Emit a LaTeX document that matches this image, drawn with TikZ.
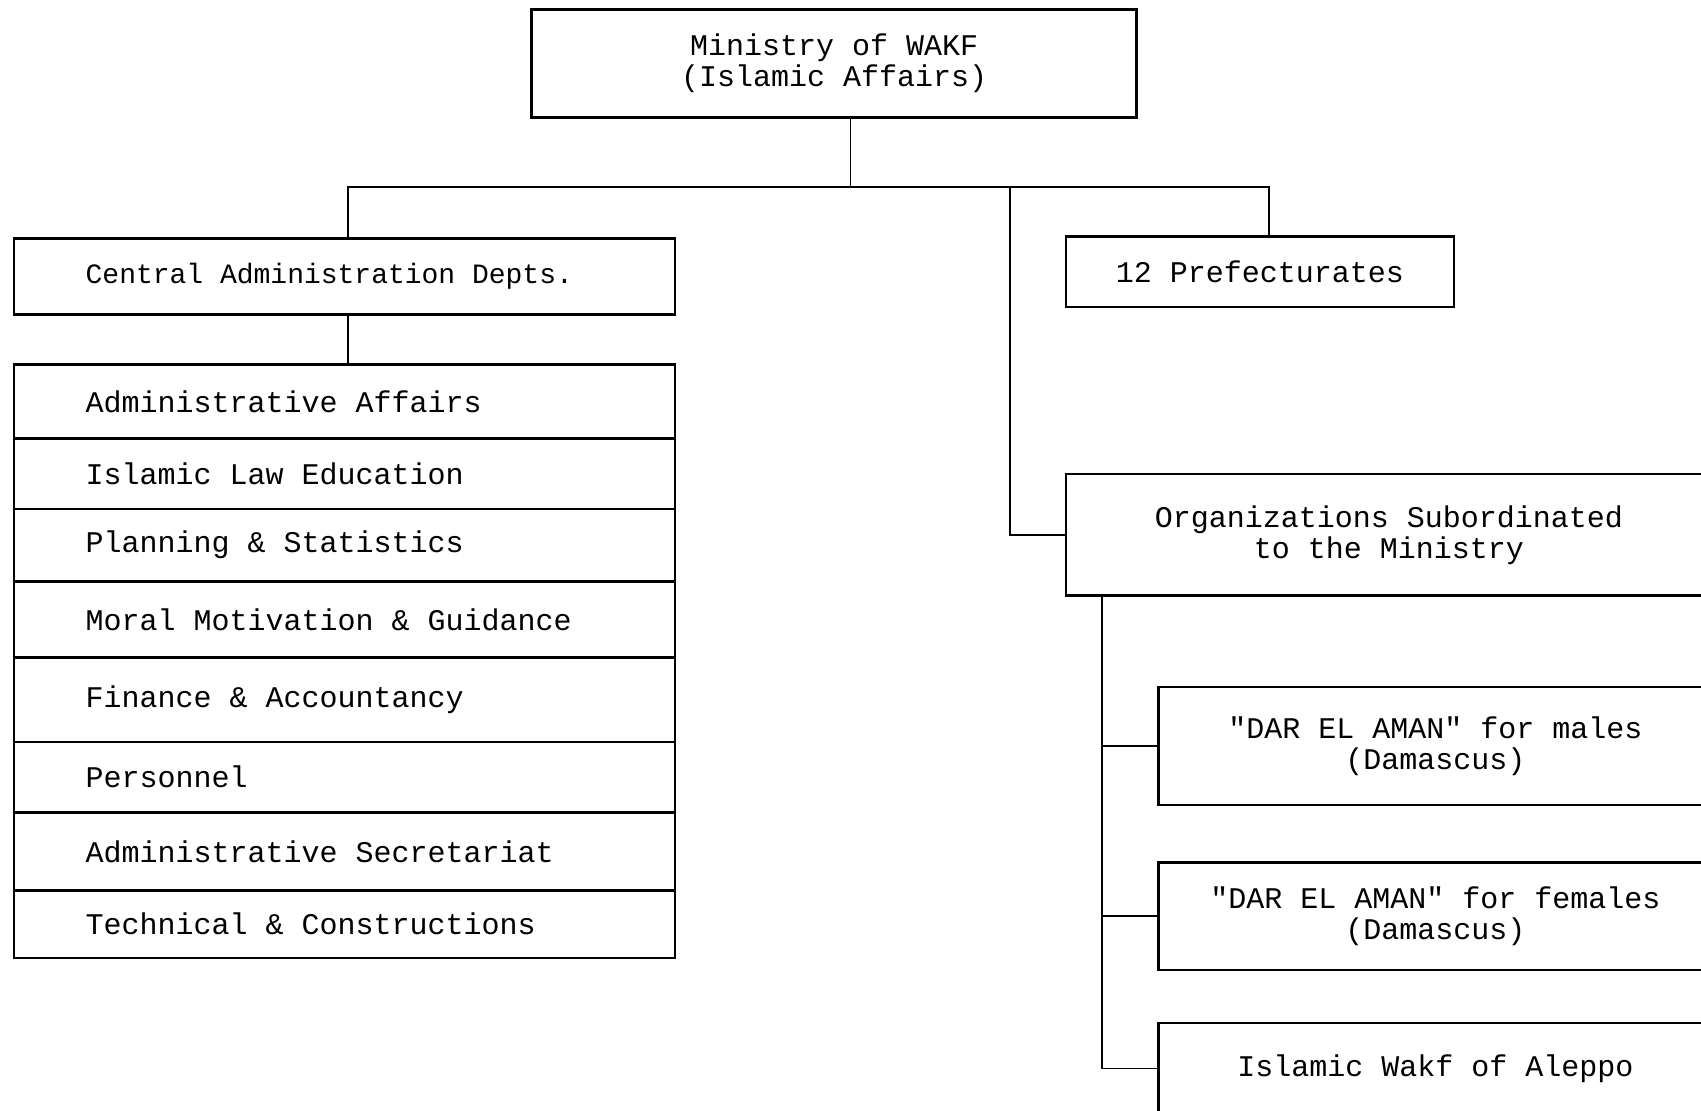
\documentclass[tikz,border=0pt]{standalone}
\usepackage{fontspec}
\setmainfont{Liberation Mono}
\usepackage{tikz}
\usetikzlibrary{positioning}
\newcommand{\letra}{\fontsize{30}{31}\selectfont}
\newcommand{\letrac}{\fontsize{28}{30}\selectfont}
\tikzset{
  caja/.style={rectangle, draw, line width=2.5pt, outer sep=0pt,
    align=center, font=\letra},
  fila/.style={rectangle, draw, line width=2.5pt, outer sep=0pt,
    text width=641pt, inner xsep=10pt, inner ysep=0pt, align=flush left,
    minimum height=74.2pt, font=\letra,
    execute at begin node={\spaceskip=0pt\relax\hspace*{61.7pt}}},
  linea/.style={line width=1.8pt},
}

\begin{document}
\begin{tikzpicture}[x=1pt, y=-1pt]
  \useasboundingbox (0,0) rectangle (1701,1111);
  \clip (0,0) rectangle (1701,1111);
  \fill[white] (0,0) rectangle (1701,1111);
  % upper level
  \node[caja, minimum width=605pt, minimum height=108pt] (ministerio) at (834.2,63.5) {Ministry of WAKF\\(Islamic Affairs)};
  \node[fila, minimum height=76pt, font=\letrac] (central) at (344.5,276.6) {Central Administration Depts.};
  \node[caja, minimum width=388pt, minimum height=70.5pt] (prefec) at (1259.9,271.8) {12 Prefecturates};
  \node[caja, minimum width=646pt, minimum height=121.6pt] (organiz) at (1389,534.8) {Organizations Subordinated\\to the Ministry};
  % central departments
  \node[fila, minimum height=73.8pt] (f1) at (344.5,401.4) {Administrative Affairs};
  \node[fila, minimum height=70.5pt, below=0pt of f1] (f2) {Islamic Law Education};
  \node[fila, minimum height=72.7pt, below=0pt of f2] (f3) {Planning \& Statistics};
  \node[fila, minimum height=75.9pt, below=0pt of f3] (f4) {Moral Motivation \& Guidance};
  \node[fila, minimum height=84.6pt, below=0pt of f4] (f5) {Finance \& Accountancy};
  \node[fila, minimum height=70.5pt, below=0pt of f5] (f6) {Personnel};
  \node[fila, minimum height=78.1pt, below=0pt of f6] (f7) {Administrative Secretariat};
  \node[fila, minimum height=67.3pt, below=0pt of f7] (f8) {Technical \& Constructions};
  % subordinated organizations
  \node[caja, minimum width=553.4pt, minimum height=118.3pt] (darm) at (1435.3,745.9) {\textquotedbl DAR EL AMAN\textquotedbl{} for males\\(Damascus)};
  \node[caja, minimum width=553.4pt, minimum height=107.4pt] (darf) at (1435.3,916.1) {\textquotedbl DAR EL AMAN\textquotedbl{} for females\\(Damascus)};
  \node[caja, minimum width=553.4pt, minimum height=91pt] (alepo) at (1435.3,1068.5) {Islamic Wakf of Aleppo};
  % connectors
  \coordinate (nudo) at (850.5,186.6);
  \coordinate (izq) at (348,186.6);
  \coordinate (rama) at (1010,186.6);
  \coordinate (der) at (1269,186.6);
  \coordinate (tronco) at (1102,595.6);
  \draw[linea] (ministerio.south -| nudo) -- (nudo);
  \draw[linea] (central.north -| izq) -- (izq) -- (der) -- (prefec.north -| der);
  \draw[linea] (rama) |- (organiz.west);
  \draw[linea] (central.south -| izq) -- (f1.north -| izq);
  \draw[linea] (tronco) |- (darm.west);
  \draw[linea] (tronco) |- (darf.west);
  \draw[linea] (tronco) |- (alepo.west);
\end{tikzpicture}
\end{document}
